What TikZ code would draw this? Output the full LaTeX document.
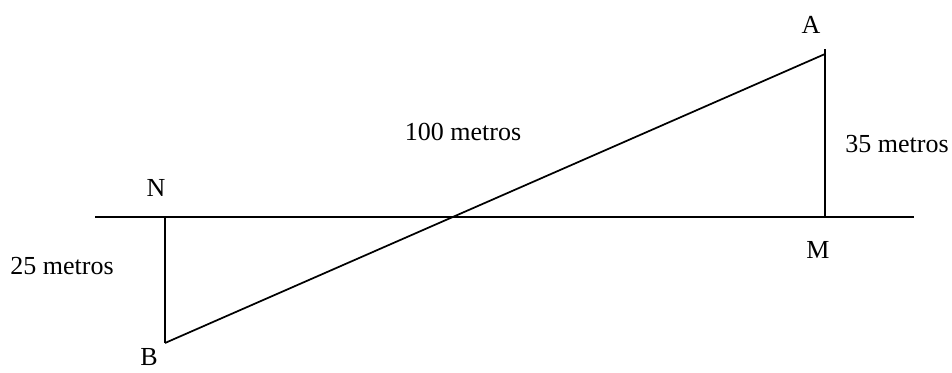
\documentclass[tikz,border=0pt]{standalone}
\usepackage{fontspec}
\setmainfont{Liberation Serif}
\usepackage{tikz}
\usetikzlibrary{positioning}

\begin{document}
\begin{tikzpicture}[x=0.75pt,y=-0.75pt,
    lbl/.style={font=\fontsize{19.5}{23}\selectfont, inner sep=0pt}]
    \useasboundingbox (0,0) rectangle (952,372);
    % Points
    \coordinate (L) at (95,217);
    \coordinate (R) at (914,217);
    \coordinate (N) at (165,217);
    \coordinate (B) at (165,343);
    \coordinate (M) at (825,217);
    \coordinate (A) at (825,49);
    \coordinate (Aend) at (825,54);

    \draw[line width=1.3pt] (L)--(R);
    \draw[line width=1.3pt] (N)--(B);
    \draw[line width=1.3pt] (M)--(A);
    \draw[line width=1.3pt] (B)--(Aend);

    % Labels
    \node[lbl] (labA) at (811,25) {A};
    \node[lbl] (labM) at (818,250) {M};
    \node[lbl] (labN) at (156,188) {N};
    \node[lbl] (labB) at (149,357) {B};
    \node[lbl] (hyp) at (463,132) {100 metros};
    \node[lbl] (sideA) at (897,144) {35 metros};
    \node[lbl] (sideB) at (62,266) {25 metros};
\end{tikzpicture}
\end{document}
